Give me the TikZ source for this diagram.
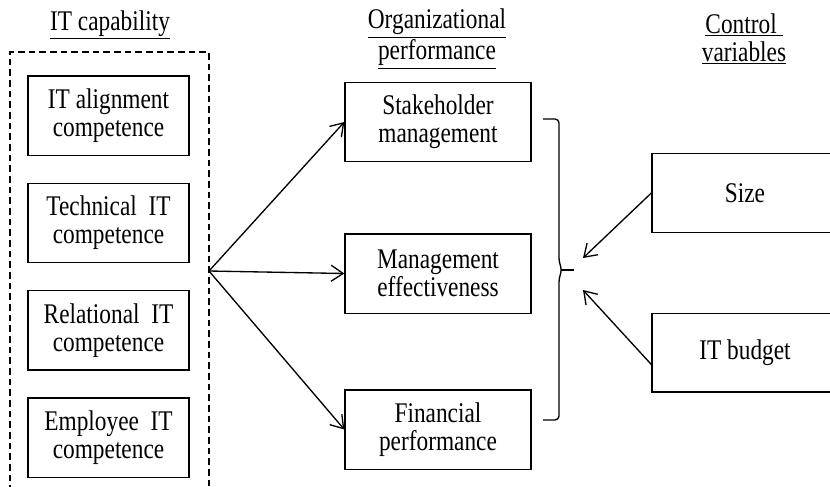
\documentclass[tikz,border=0pt]{standalone}
\usepackage{graphicx}
\usepackage{fontspec}
\setmainfont{Liberation Serif}
\usetikzlibrary{arrows.meta, positioning}

% taller letters, as in the reference
\newcommand{\vs}[1]{\scalebox{1}[1.22]{#1}}

\begin{document}
\begin{tikzpicture}[
      x=0.75pt, y=-0.75pt,
      >={Straight Barb[length=9pt, width=12pt]},
      every node/.style={font=\fontsize{17.5}{21}\selectfont, align=center},
      capbox/.style={draw, line width=1pt, minimum width=120.75pt, minimum height=59.5pt},
      perfbox/.style={draw, line width=1pt, minimum width=139.5pt, minimum height=59.5pt},
      ctrlbox/.style={draw, line width=1pt, minimum width=139.5pt, minimum height=59pt},
      coltitle/.style={inner sep=1pt},
      link/.style={->, line width=1pt}
    ]
      \useasboundingbox (0,0) rectangle (830,486);
      \clip (0,0) rectangle (830,486);

      % column titles
      \node[coltitle] (tcap) at (110,25) {\vs{\underline{IT capability}}};
      \node[coltitle] (tperf) at (437,39) {\vs{\underline{Organizational}}\\\vs{\underline{performance}}};
      \node[coltitle] (tctrl) at (744,39) {\vs{\underline{Control\ }}\\\vs{\underline{variables}}};

      % IT capability
      \draw[line width=1pt, dash pattern=on 5pt off 3pt] (10,492) -- (10,52) -- (209,52) -- (209,492);
      \node[capbox] (c1) at (108.5,115.5) {\vs{IT alignment}\\\vs{competence}};
      \node[capbox, below=20pt of c1] (c2) {\vs{Technical~ IT}\\\vs{competence}};
      \node[capbox, below=20pt of c2] (c3) {\vs{Relational~ IT}\\\vs{competence}};
      \node[capbox, below=20pt of c3] (c4) {\vs{Employee~ IT}\\\vs{competence}};
      \coordinate (src) at (209,271);

      % organizational performance
      \node[perfbox] (p1) at (438,122) {\vs{Stakeholder}\\\vs{management}};
      \node[perfbox] (p2) at (438,273.5) {\vs{Management}\\\vs{effectiveness}};
      \node[perfbox] (p3) at (438,429.5) {\vs{Financial}\\\vs{performance}};

      \draw[link] (src) -- (p1.west);
      \draw[link] (src) -- (p2.west);
      \draw[link] (src) -- (p3.west);

      % brace
      \draw[line width=1pt, rounded corners=3pt] (543,119) -- (559,119) -- (559,262) -- (562,270) -- (559,278) -- (559,420) -- (543,420);
      \draw[line width=1pt] (561,270) -- (574,270);

      % control variables
      \node[ctrlbox] (size) at (745,193) {\vs{Size}};
      \node[ctrlbox] (budget) at (745,352.5) {\vs{IT budget}};
      \coordinate (jtop) at (583,258);
      \coordinate (jbot) at (583,290);

      \draw[link] (size.west) -- (jtop);
      \draw[link] ([yshift=-9pt]budget.west) -- (jbot);
    \end{tikzpicture}
\end{document}
